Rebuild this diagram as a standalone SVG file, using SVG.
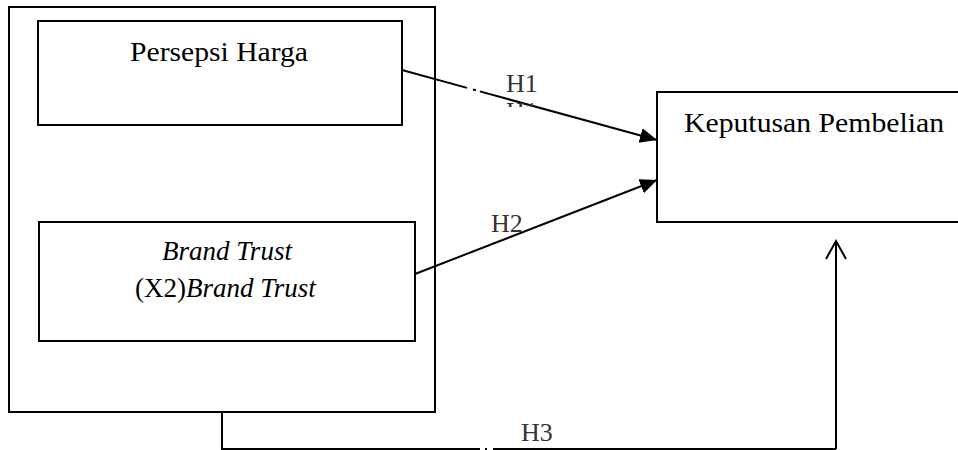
<svg xmlns="http://www.w3.org/2000/svg" width="958" height="450" viewBox="0 0 958 450">
<style>
.box{fill:#fff;stroke:#000;stroke-width:2}
.lbl{font-family:"Liberation Serif","Times New Roman",serif;font-size:27px;fill:#000}
.up{font-size:28px}
.hl{font-family:"Liberation Serif","Times New Roman",serif;font-size:26px;fill:#333}
.con{fill:none;stroke:#000;stroke-width:2}
</style>
<defs>
<marker id="solid" markerUnits="userSpaceOnUse" markerWidth="18" markerHeight="16" refX="17" refY="7.5" orient="auto">
<path d="M0,0 L17,7.5 L0,15 z" fill="#000"/>
</marker>
<marker id="open" markerUnits="userSpaceOnUse" markerWidth="22" markerHeight="26" refX="19" refY="11" orient="auto">
<path d="M1,1 L19,11 L1,21" fill="none" stroke="#000" stroke-width="2"/>
</marker>
<clipPath id="ghost"><rect x="500" y="101" width="40" height="6"/></clipPath>
</defs>
<rect width="958" height="450" fill="#fff"/>
<g id="group-x">
<rect class="box" x="9" y="7" width="426" height="405"/>
</g>
<g id="persepsi-harga">
<rect class="box" x="38" y="21" width="364" height="104"/>
<text class="lbl up" x="130" y="61" textLength="178" lengthAdjust="spacingAndGlyphs">Persepsi Harga</text>
</g>
<g id="brand-trust">
<rect class="box" x="39" y="222" width="376" height="119"/>
<text class="lbl" x="227" y="260" text-anchor="middle" font-style="italic">Brand Trust</text>
<text class="lbl" x="135" y="297">(X2)<tspan font-style="italic">Brand Trust</tspan></text>
</g>
<g id="keputusan-pembelian">
<rect class="box" x="657" y="92" width="320" height="130"/>
<text class="lbl up" x="684" y="132" textLength="260" lengthAdjust="spacingAndGlyphs">Keputusan Pembelian</text>
</g>
<g id="connectors">
<line class="con" x1="402" y1="70" x2="657" y2="140" stroke-dasharray="67.4 6.2 3.1 4.1 300" marker-end="url(#solid)"/>
<line class="con" x1="415" y1="274" x2="657" y2="180" marker-end="url(#solid)"/>
<path class="con" d="M222,412 V449 H480 M485,449 H487 M493,449 H836"/>
<path class="con" d="M836,449 V241" marker-end="url(#open)"/>
<text class="hl" x="506" y="92">H1</text>
<text class="hl" x="506" y="120" clip-path="url(#ghost)">H1</text>
<text class="hl" x="491" y="232">H2</text>
<text class="hl" x="521" y="441">H3</text>
</g>
</svg>
